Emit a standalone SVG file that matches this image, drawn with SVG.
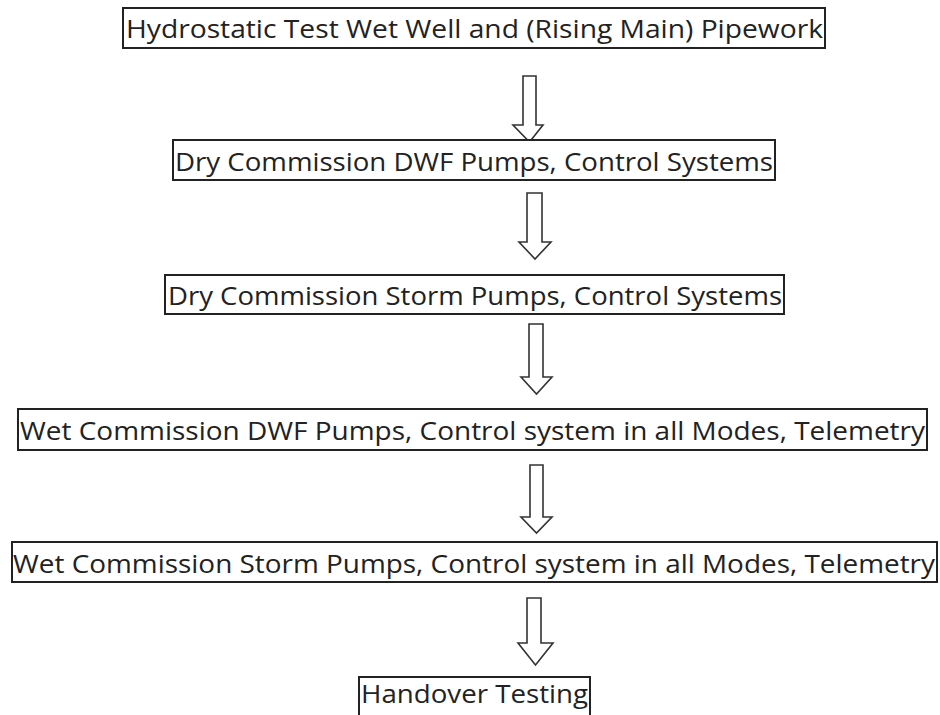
<svg xmlns="http://www.w3.org/2000/svg" width="940" height="715" viewBox="0 0 940 715">
<style>
.box{fill:#fff;stroke:#222;stroke-width:2}
.lbl{font-family:"Open Sans","Noto Sans","Liberation Sans",sans-serif;font-size:26px;fill:#222}
.arr{fill:#fff;stroke:#333;stroke-width:1.6;stroke-linejoin:miter}
</style>
<rect width="940" height="715" fill="#fff"/>
<g id="connectors">
<path class="arr" d="M523,76 H536 V125 H543 L529.5,142 L513,125 H523 Z"/>
<path class="arr" d="M527,193 H542 V242 H551 L535,259 L519,242 H527 Z"/>
<path class="arr" d="M529,324 H543 V377 H552 L536.5,394 L521,377 H529 Z"/>
<path class="arr" d="M530,465 H543 V517 H552 L536.5,533 L521,517 H530 Z"/>
<path class="arr" d="M527,598 H541 V643 H553 L535.5,665 L518,643 H527 Z"/>
</g>
<g id="n1"><rect class="box" x="123" y="8" width="702" height="40"/><text class="lbl" x="126" y="38" textLength="697" lengthAdjust="spacingAndGlyphs">Hydrostatic Test Wet Well and (Rising Main) Pipework</text></g>
<g id="n2"><rect class="box" x="173" y="140" width="602" height="40"/><text class="lbl" x="175" y="171" textLength="598" lengthAdjust="spacingAndGlyphs">Dry Commission DWF Pumps, Control Systems</text></g>
<g id="n3"><rect class="box" x="165" y="275" width="619" height="39"/><text class="lbl" x="168" y="305" textLength="614" lengthAdjust="spacingAndGlyphs">Dry Commission Storm Pumps, Control Systems</text></g>
<g id="n4"><rect class="box" x="18" y="409" width="909" height="41"/><text class="lbl" x="20" y="440" textLength="905" lengthAdjust="spacingAndGlyphs">Wet Commission DWF Pumps, Control system in all Modes, Telemetry</text></g>
<g id="n5"><rect class="box" x="12" y="542" width="925" height="40"/><text class="lbl" x="13" y="573" textLength="922" lengthAdjust="spacingAndGlyphs">Wet Commission Storm Pumps, Control system in all Modes, Telemetry</text></g>
<g id="n6"><rect class="box" x="359" y="677" width="231" height="45"/><text class="lbl" x="361" y="703" textLength="227" lengthAdjust="spacingAndGlyphs">Handover Testing</text></g>
</svg>
